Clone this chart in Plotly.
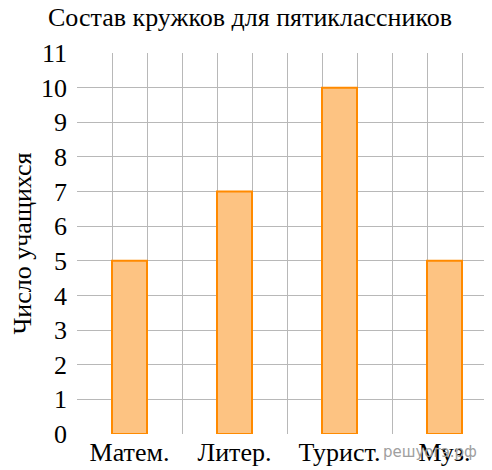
import plotly.graph_objects as go

categories = ["Матем.", "Литер.", "Турист.", "Муз."]
values = [5, 7, 10, 5]
positions = [1.5, 4.5, 7.5, 10.5]
y_ticks = list(range(0, 12))

title_text = "Состав кружков для пятиклассников"
y_title = "Число учащихся"
watermark = "решуогэ.рф"

serif = "Liberation Serif, Times New Roman, serif"
FS = 26

# the page body has an 8px default margin; the figure is sized to sit inside it
W, H = 484, 462
L, T, B = 69, 45, 36
plot_w = W - L
plot_h = H - T - B

fig = go.Figure()
fig.add_trace(go.Bar(
    x=positions, y=values, width=1,
    marker=dict(color="#FDC382", line=dict(color="#FF8A00", width=2)),
    hoverinfo="skip",
))

fig.update_layout(
    width=W, height=H,
    margin=dict(l=L, r=0, t=T, b=B, autoexpand=False),
    plot_bgcolor="white", paper_bgcolor="white",
    showlegend=False,
    title=dict(text=title_text, x=242 / W, xref="container", xanchor="center",
               y=1, yref="container", yanchor="top",
               font=dict(family=serif, size=FS, color="black")),
    xaxis=dict(range=[0, plot_w / 35], tickmode="array", tickvals=positions,
               ticktext=categories, showgrid=False, zeroline=False,
               ticks="", automargin=False,
               tickfont=dict(family=serif, size=FS, color="black"),
               minor=dict(tick0=0, dtick=1, showgrid=True, gridcolor="#b8b8b8",
                          gridwidth=1, ticks=""),
               fixedrange=True),
    yaxis=dict(range=[0, 11], tickmode="array", tickvals=y_ticks,
               showgrid=True, gridcolor="#b8b8b8", gridwidth=1, zeroline=False,
               ticks="", ticklabelstandoff=9, automargin=False,
               tickfont=dict(family=serif, size=FS, color="black"),
               title=dict(text=y_title, font=dict(family=serif, size=FS, color="black"),
                          standoff=4),
               fixedrange=True),
    annotations=[dict(text=watermark, x=(422 - L) / plot_w, y=-(444 - (H - B)) / plot_h,
                      xref="paper", yref="paper", xanchor="center", yanchor="middle",
                      showarrow=False,
                      font=dict(family="DejaVu Sans, sans-serif", size=15, color="#a0a0a0"))],
)
fig.write_html("out.html")
